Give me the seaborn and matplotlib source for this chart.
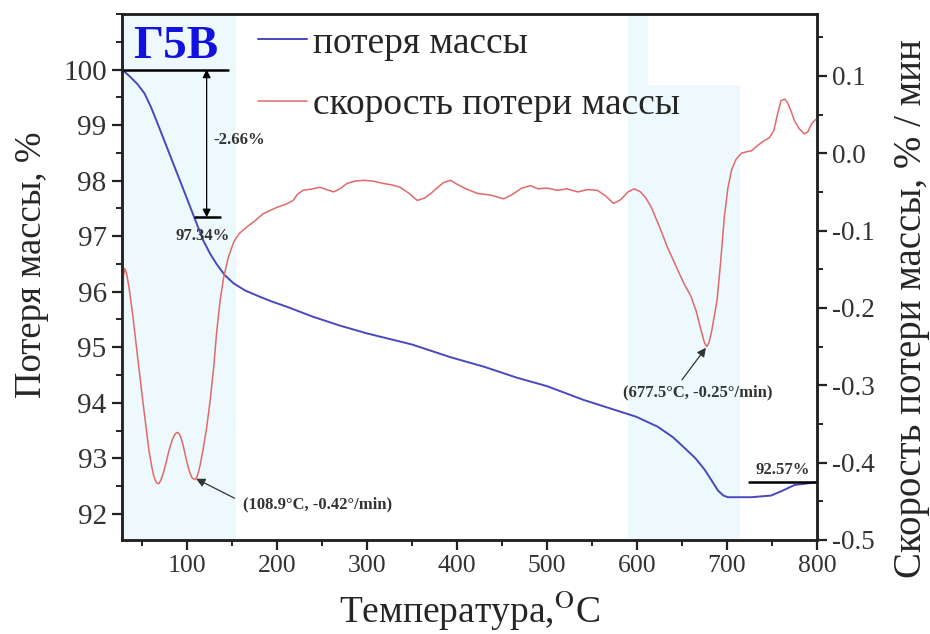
import numpy as np
import pandas as pd
import matplotlib
matplotlib.use("Agg")
import matplotlib.pyplot as plt
import seaborn as sns
from matplotlib.ticker import MultipleLocator

# Thermogravimetric data: mass (%) and mass-loss rate (%/min) vs temperature (°C)
mass_temp = [28, 37, 45, 53, 60, 66, 74, 81, 88, 96, 107, 118, 126, 133, 142, 152,
             165, 181, 195, 211, 240, 270, 300, 350, 393, 430, 467, 500, 541, 570,
             599, 623, 640, 652, 665, 675, 683, 690, 696, 701, 727, 749, 762, 775,
             790, 800]
mass_pct = [100.0, 99.87, 99.74, 99.57, 99.33, 99.09, 98.76, 98.47, 98.18, 97.85,
            97.39, 96.93, 96.68, 96.5, 96.3, 96.15, 96.02, 95.91, 95.82, 95.73,
            95.55, 95.39, 95.25, 95.05, 94.82, 94.65, 94.45, 94.3, 94.05, 93.9,
            93.75, 93.57, 93.38, 93.2, 93.0, 92.8, 92.6, 92.42, 92.33, 92.3, 92.3,
            92.33, 92.42, 92.52, 92.55, 92.57]

rate_temp = [28, 29.5, 31, 33, 36, 40, 44, 50, 55, 58, 61, 63, 65, 67, 69, 71, 74,
             77, 80, 84, 87, 89, 91, 93, 96, 99, 102, 104, 106, 108.9, 111, 113,
             115, 118, 122, 126, 130, 133, 137, 141, 146, 152, 158, 167, 176, 185,
             200, 210, 218, 223, 229, 240, 248, 255, 263, 270, 278, 287, 296, 307,
             318, 328, 337, 347, 356, 364, 371, 378, 385, 393, 400, 410, 423, 437,
             452, 462, 472, 482, 490, 500, 512, 522, 534, 545, 556, 565, 574, 582,
             590, 597, 604, 610, 616, 625, 634, 643, 652, 660, 666, 671, 675, 677.5,
             680, 683, 686, 689, 693, 697, 701, 705, 710, 716, 722, 727, 734, 741,
             747, 752, 756, 760, 764, 767, 771, 775, 780, 786, 790, 794, 797, 800]
rate_val = [-0.45, -0.16, -0.149, -0.155, -0.175, -0.21, -0.25, -0.31, -0.357,
            -0.385, -0.405, -0.416, -0.423, -0.427, -0.427, -0.423, -0.413, -0.4,
            -0.385, -0.37, -0.363, -0.361, -0.362, -0.366, -0.378, -0.394, -0.408,
            -0.415, -0.42, -0.422, -0.419, -0.412, -0.402, -0.383, -0.355, -0.319,
            -0.275, -0.233, -0.19, -0.16, -0.135, -0.115, -0.104, -0.095, -0.087,
            -0.078, -0.07, -0.066, -0.061, -0.053, -0.048, -0.046, -0.044, -0.047,
            -0.05, -0.046, -0.039, -0.036, -0.035, -0.036, -0.039, -0.041, -0.044,
            -0.052, -0.061, -0.058, -0.052, -0.045, -0.038, -0.035, -0.04, -0.046,
            -0.052, -0.054, -0.059, -0.053, -0.045, -0.042, -0.046, -0.045, -0.048,
            -0.046, -0.05, -0.047, -0.048, -0.055, -0.065, -0.06, -0.05, -0.046,
            -0.05, -0.058, -0.07, -0.095, -0.122, -0.145, -0.168, -0.185, -0.205,
            -0.228, -0.245, -0.25, -0.245, -0.23, -0.21, -0.19, -0.14, -0.083,
            -0.045, -0.022, -0.008, 0.0, 0.002, 0.003, 0.01, 0.016, 0.02, 0.029,
            0.05, 0.068, 0.07, 0.066, 0.055, 0.042, 0.032, 0.025, 0.028, 0.038,
            0.042, 0.045]

# Marked values
start_pct = 100.0
step_pct = 97.34
step_loss = -2.66
final_pct = 92.57
peak1 = (108.9, -0.42)
peak2 = (677.5, -0.25)

labels = ["потеря массы", "скорость потери массы"]
blue = "#4848c0"
red = "#e06a6a"
band = "#edf9fc"
ink = "#333333"

sns.set_style("ticks")
plt.rcParams["font.family"] = ["Liberation Serif", "DejaVu Serif"]
plt.rcParams["mathtext.fontset"] = "stix"

mass_df = pd.DataFrame({"T": mass_temp, "m": mass_pct})
rate_df = pd.DataFrame({"T": rate_temp, "r": rate_val})

fig = plt.figure(figsize=(9.3, 6.34), dpi=100)
ax = fig.add_axes([0.1312, 0.1483, 0.7473, 0.8296])
ax2 = ax.twinx()

# Shaded temperature ranges
ax.axvspan(28, 155, color=band, lw=0, zorder=0)
ax.axvspan(590, 612, color=band, lw=0, zorder=0)
ax.axvspan(612, 714, ymax=0.865, color=band, lw=0, zorder=0)

sns.lineplot(data=mass_df, x="T", y="m", ax=ax, color=blue, lw=1.4, label=labels[0],
             legend=False)
sns.lineplot(data=rate_df, x="T", y="r", ax=ax2, color=red, lw=1.1, label=labels[1],
             legend=False)

ax.set_xlim(28, 800)
ax.set_ylim(91.53, 101.0)
ax2.set_ylim(-0.5, 0.18)

ax.xaxis.set_major_locator(MultipleLocator(100))
ax.xaxis.set_minor_locator(MultipleLocator(50))
ax.set_yticks([92, 93, 94, 95, 96, 97, 98, 99, 100])
ax.yaxis.set_minor_locator(MultipleLocator(0.5))
ax2.set_yticks([-0.5, -0.4, -0.3, -0.2, -0.1, 0.0, 0.1])
ax2.set_yticklabels(["-0.5", "-0.4", "-0.3", "-0.2", "-0.1", "0.0", "0.1"])
ax2.yaxis.set_minor_locator(MultipleLocator(0.05))

for a in (ax, ax2):
    for s in a.spines.values():
        s.set_linewidth(1.8)
        s.set_color("#222222")
    a.tick_params(which="major", length=7, width=1.6, colors="#222222",
                  labelcolor=ink, pad=4)
    a.tick_params(which="minor", length=4, width=1.4, colors="#222222")
ax.tick_params(axis="y", which="both", right=False, labelsize=21)
ax.tick_params(axis="x", labelsize=18.5)
ax2.tick_params(axis="y", labelsize=19.5)

ax.set_xlabel("Температура,$^{\\mathrm{O}}$C", fontsize=27)
ax.set_ylabel("Потеря массы, %", fontsize=26.5)
ax2.set_ylabel("Скорость потери массы, % / мин", fontsize=28)
ax.xaxis.set_label_coords(0.5, -0.093)
ax.yaxis.set_label_coords(-0.105, 0.523)
ax2.yaxis.set_label_coords(1.109, 0.44)

# Step marker for the first mass-loss stage
ax.plot([28, 146], [start_pct, start_pct], color="black", lw=1.8, zorder=5)
ax.plot([109, 137], [step_pct, step_pct], color="black", lw=1.8, zorder=5)
ax.annotate("", xy=(122, step_pct), xytext=(122, start_pct),
            arrowprops=dict(arrowstyle="<|-|>", color="black", lw=0.9,
                            mutation_scale=12, shrinkA=0, shrinkB=0))
ax.text(129, 98.73, f"{step_loss:.2f}%", fontsize=12, fontweight="bold",
        color=ink, ha="left", va="center")
ax.text(118, 97.0, f"{step_pct:.2f}%", fontsize=12, fontweight="bold",
        color=ink, ha="center", va="center")

# Final residue
ax.plot([725, 800], [final_pct, final_pct], color="black", lw=1.8, zorder=5)
ax.text(762, 92.79, f"{final_pct:.2f}%", fontsize=12, fontweight="bold",
        color=ink, ha="center", va="center")

# Peak annotations on the rate curve
arrow_kw = dict(arrowstyle="-|>", color=ink, lw=0.9, mutation_scale=13,
                shrinkA=0, shrinkB=1)
ax2.text(162, -0.454, f"({peak1[0]}°C, {peak1[1]:.2f}°/min)", fontsize=12,
         fontweight="bold", color=ink, ha="left", va="center")
ax2.annotate("", xy=peak1, xytext=(153, -0.446), arrowprops=arrow_kw)
ax2.text(668, -0.309, f"({peak2[0]}°C, {peak2[1]:.2f}°/min)", fontsize=12,
         fontweight="bold", color=ink, ha="center", va="center")
ax2.annotate("", xy=peak2, xytext=(650, -0.293), arrowprops=arrow_kw)

# Sample name
ax.text(0.016, 0.977, "Г5В", transform=ax.transAxes, fontsize=34, fontweight="bold",
        color="#1212e0", ha="left", va="top")

h1, l1 = ax.get_legend_handles_labels()
h2, l2 = ax2.get_legend_handles_labels()
ax.legend(h1 + h2, l1 + l2, loc="upper left", bbox_to_anchor=(0.196, 0.977),
          frameon=False, fontsize=27, handlelength=1.3, handletextpad=0.15,
          labelspacing=0.72, borderaxespad=0, borderpad=0)

fig.savefig("out.png", dpi=100)
